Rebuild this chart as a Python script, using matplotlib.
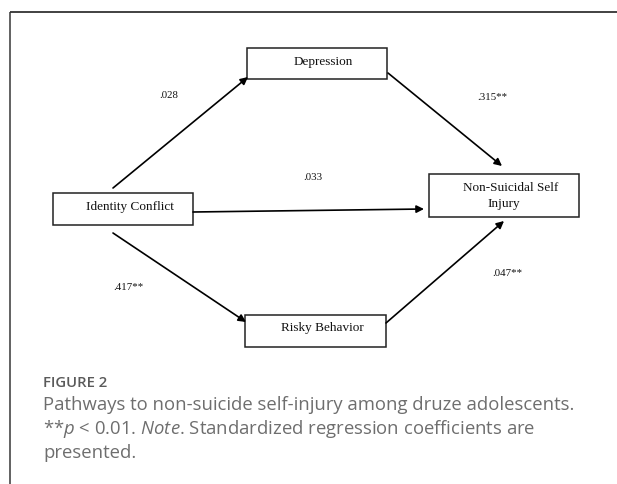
import matplotlib
matplotlib.use("Agg")
import matplotlib.pyplot as plt
from matplotlib.patches import Rectangle

# ---- data ----
node_labels = ["Identity Conflict", "Depression", "Non-Suicidal Self", "Injury", "Risky Behavior"]
path_from = ["Identity Conflict", "Depression", "Identity Conflict", "Identity Conflict", "Risky Behavior"]
path_to = ["Depression", "Non-Suicidal Self Injury", "Non-Suicidal Self Injury", "Risky Behavior", "Non-Suicidal Self Injury"]
coefficients = [".028", ".315**", ".033", ".417**", ".047**"]
figure_label = "FIGURE 2"
caption_line1 = "Pathways to non-suicide self-injury among druze adolescents."
caption_line2 = r"**$\mathit{p}$ < 0.01. $\mathit{Note}$. Standardized regression coefficients are"
caption_line3 = "presented."

# ---- layout (pixel coordinates, y downward) ----
W, H = 617, 484
boxes = {  # x0, y0, x1, y1
    "Identity Conflict": (53, 193, 193, 225),
    "Depression": (247, 48, 387, 79),
    "Non-Suicidal Self Injury": (429, 174, 579, 217),
    "Risky Behavior": (245, 315, 386, 347),
}
text_pos = [(130, 207), (323, 62), (511, 188), (504, 204), (322, 328)]
arrow_pts = [((113, 188), (248, 77)),
             ((388, 73), (502, 166)),
             ((193, 212), (424, 209)),
             ((113, 233), (246, 322)),
             ((386, 323), (504, 221))]
coef_pos = [(169, 96), (492, 98), (313, 177), (128, 287), (507, 273)]

plt.rcParams['mathtext.fontset'] = 'custom'
plt.rcParams['mathtext.rm'] = 'Open Sans'
plt.rcParams['mathtext.it'] = 'Open Sans:italic'

fig = plt.figure(figsize=(W / 100, H / 100), dpi=100)
ax = fig.add_axes([0, 0, 1, 1])
ax.set_xlim(0, W)
ax.set_ylim(H, 0)
ax.axis('off')

# frame
ax.plot([10, 10], [H, 12], color='#555555', lw=1.3, solid_capstyle='butt')
ax.plot([10, W], [12, 12], color='#333333', lw=1.3, solid_capstyle='butt')

# boxes
for name, (x0, y0, x1, y1) in boxes.items():
    ax.add_patch(Rectangle((x0, y0), x1 - x0, y1 - y0, fill=False,
                           edgecolor='#222222', lw=1.1))

serif = 'Liberation Serif'
for lab, (x, y) in zip(node_labels, text_pos):
    ax.text(x, y, lab, ha='center', va='center', family=serif, fontsize=9.5,
            color='#111111')

for (s, e) in arrow_pts:
    ax.annotate('', xy=e, xytext=s,
                arrowprops=dict(arrowstyle='-|>', color='black', lw=1.2,
                                mutation_scale=11, shrinkA=0, shrinkB=0))

for c, (x, y) in zip(coefficients, coef_pos):
    ax.text(x, y, c, ha='center', va='center', family=serif, fontsize=7.8,
            color='#111111')

# caption
ax.text(43, 383, figure_label, ha='left', va='center', family='Open Sans',
        fontweight='semibold', fontsize=10.7, color='#5a5a5a')
cap_kw = dict(ha='left', va='center', family='Open Sans', fontsize=13.3,
              color='#6e6e6e')
ax.text(43, 405, caption_line1, **cap_kw)
ax.text(43, 429, caption_line2, **cap_kw)
ax.text(43, 453, caption_line3, **cap_kw)

fig.savefig('out.png', dpi=100, facecolor='white')
